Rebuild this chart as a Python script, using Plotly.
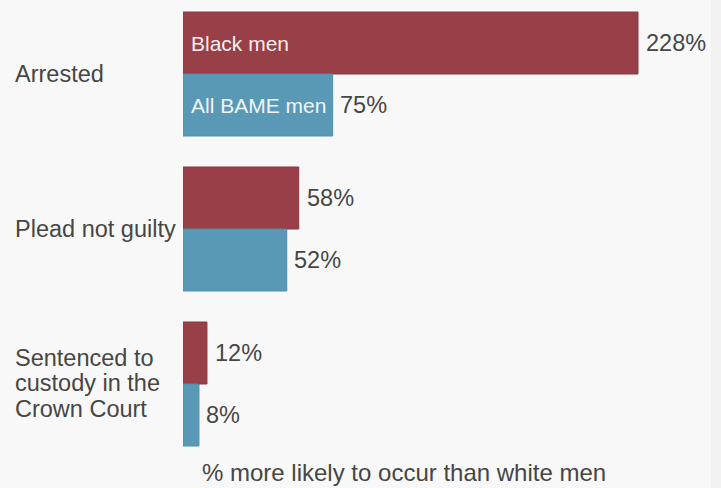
import plotly.graph_objects as go

categories = ["Arrested", "Plead not guilty", "Sentenced to\ncustody in the\nCrown Court"]
series_names = ["Black men", "All BAME men"]
black_men = [228, 58, 12]
bame_men = [75, 52, 8]
axis_title = "% more likely to occur than white men"

RED = "#993f47"
BLUE = "#5a99b6"
TEXT = "#464646"
FONT = "Liberation Sans, Arial, sans-serif"

W, H = 721, 488
L, R, T, B = 183, 10, 0, 30
plot_w = W - L - R
plot_h = H - T - B
px_per_unit = 455 / 228
x_max = plot_w / px_per_unit

ypos = list(range(len(categories)))

fig = go.Figure()
fig.add_trace(go.Bar(
    name=series_names[0], y=ypos, x=black_men, orientation="h",
    marker=dict(color=RED, line=dict(color="#8a3840", width=1)),
    hoverinfo="x",
))
fig.add_trace(go.Bar(
    name=series_names[1], y=ypos, x=bame_men, orientation="h",
    marker=dict(color=BLUE, line=dict(color="#5290ad", width=1)),
    hoverinfo="x",
))

annotations = []
for i, (b, a) in enumerate(zip(black_men, bame_men)):
    annotations.append(dict(x=b, y=i - 0.2, xref="x", yref="y", text=f"{b}%",
                            showarrow=False, xanchor="left", xshift=6,
                            font=dict(size=23.5, color=TEXT, family=FONT)))
    annotations.append(dict(x=a, y=i + 0.2, xref="x", yref="y", text=f"{a}%",
                            showarrow=False, xanchor="left", xshift=5,
                            font=dict(size=23.5, color=TEXT, family=FONT)))
annotations.append(dict(x=0, y=-0.2, xref="x", yref="y", text=series_names[0],
                        showarrow=False, xanchor="left", xshift=6,
                        font=dict(size=21, color="#f7eeee", family=FONT)))
annotations.append(dict(x=0, y=0.2, xref="x", yref="y", text=series_names[1],
                        showarrow=False, xanchor="left", xshift=6,
                        font=dict(size=21, color="#eef5f8", family=FONT)))
line_gap = 25.5
for i, c in enumerate(categories):
    lines = c.split("\n")
    n = len(lines)
    for j, ln in enumerate(lines):
        shift = ((n - 1) / 2 - j) * line_gap + 1
        annotations.append(dict(x=(13 - L) / plot_w, y=i, xref="paper", yref="y", text=ln,
                                showarrow=False, xanchor="left", align="left",
                                yshift=shift if n > 1 else 0,
                                font=dict(size=23.5, color=TEXT, family=FONT)))
annotations.append(dict(x=(404 - L) / plot_w, y=-(473 - (T + plot_h)) / plot_h,
                        xref="paper", yref="paper", text=axis_title,
                        showarrow=False, xanchor="center", yanchor="middle",
                        font=dict(size=24, color=TEXT, family=FONT)))

top_units = 74 / 155
bottom_units = (458 - 384) / 155

fig.update_layout(
    width=W, height=H,
    margin=dict(l=L, r=R, t=T, b=B),
    paper_bgcolor="#f8f8f8",
    plot_bgcolor="#f8f8f8",
    barmode="group",
    bargap=0.2,
    bargroupgap=0,
    showlegend=False,
    xaxis=dict(range=[0, x_max], visible=False, showgrid=False, zeroline=False),
    yaxis=dict(range=[2 + bottom_units, -top_units], visible=False,
               showgrid=False, zeroline=False),
    annotations=annotations,
    shapes=[dict(type="rect", xref="paper", yref="paper",
                 x0=(711 - L) / plot_w, x1=(W - L) / plot_w,
                 y0=-B / plot_h, y1=1 + T / plot_h,
                 fillcolor="#f2f2f2", line=dict(width=0), layer="below")],
    font=dict(family=FONT, color=TEXT),
)

fig.write_html("out.html", config={"displayModeBar": False},
               post_script="document.body.style.margin='0';document.body.style.background='#f8f8f8';")
